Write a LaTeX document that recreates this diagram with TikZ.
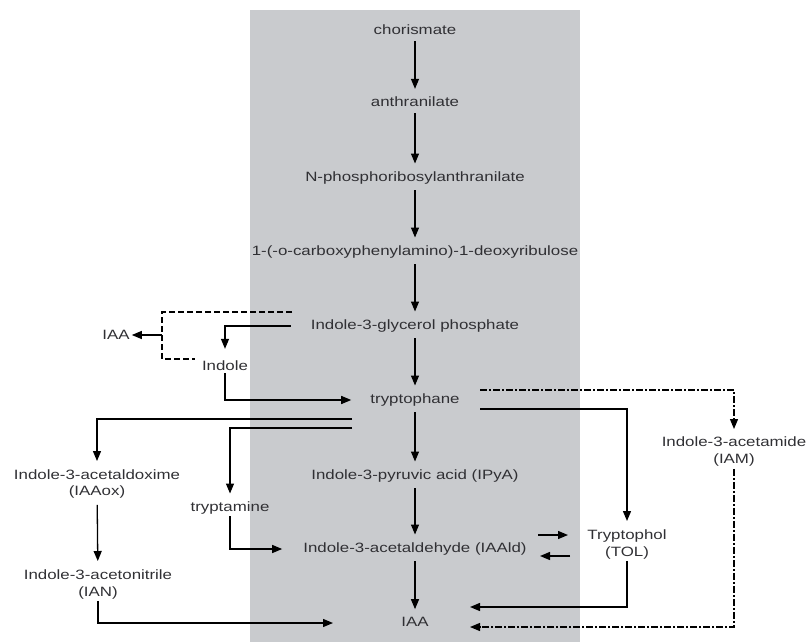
\documentclass[tikz,border=0pt]{standalone}
\usepackage{fontspec}
\setmainfont[FakeStretch=1.25]{Liberation Sans}
\usetikzlibrary{arrows.meta}
\definecolor{boxgray}{RGB}{201,203,206}
\definecolor{txtgray}{RGB}{48,48,52}
\begin{document}
\begin{tikzpicture}[
    x = 1pt, y = -1pt,
    met/.style = {text = txtgray, font = \fontsize{13.5}{17}\selectfont, align = center, inner sep = 2pt},
    arr/.style = {draw, line width = 1.3pt, -{Triangle[length=10pt,width=8pt]}},
    dsh/.style = {draw, line width = 1.2pt, dash pattern = on 6pt off 3pt},
    dshdot/.style = {draw, line width = 1.2pt, dash pattern = on 7pt off 2pt on 2pt off 2pt, -{Triangle[length=10pt,width=8pt]}},
  ]
  \useasboundingbox (0,0) rectangle (808,642);
  \fill[boxgray] (250,10) rectangle (580,642);

  % main chain
  \node[met] (cho) at (415,30) {chorismate};
  \node[met] (ant) at (415,102) {anthranilate};
  \node[met] (npr) at (415,178) {N-phosphoribosylanthranilate};
  \node[met] (cdr) at (415,252) {1-(-o-carboxyphenylamino)-1-deoxyribulose};
  \node[met] (igp) at (415,326) {Indole-3-glycerol phosphate};
  \node[met] (trp) at (415,400) {tryptophane};
  \node[met] (ipya) at (415,476) {Indole-3-pyruvic acid (IPyA)};
  \node[met] (iaald) at (415,549) {Indole-3-acetaldehyde (IAAld)};
  \node[met] (iaa) at (415,622) {IAA};

  % side branches
  \node[met] (iaaL) at (116,335) {IAA};
  \node[met] (ind) at (225,366) {Indole};
  \node[met] (iaaox) at (97,484) {Indole-3-acetaldoxime\\(IAAox)};
  \node[met] (ian) at (98,584) {Indole-3-acetonitrile\\(IAN)};
  \node[met] (trm) at (230,508) {tryptamine};
  \node[met] (tol) at (627,544) {Tryptophol\\(TOL)};
  \node[met] (iam) at (734,452) {Indole-3-acetamide\\(IAM)};

  \coordinate (trpL1) at (352,419);
  \coordinate (trpL2) at (352,428);
  \coordinate (trpR1) at (480,409);
  \coordinate (trpR2) at (480,390);
  \coordinate (dA) at (292,312);
  \coordinate (dB) at (162,359);
  \coordinate (dC) at (195,359);
  \coordinate (dV) at (162,335);
  \coordinate (fwdA) at (538,535);
  \coordinate (fwdB) at (568,535);
  \coordinate (bckA) at (570,556);
  \coordinate (bckB) at (540,556);
  \coordinate (toIaa1) at (470,607);
  \coordinate (toIaa2) at (470,627);
  \coordinate (toIaa3) at (333,623);

  \foreach \a/\b in {cho/ant, npr/cdr, ant/npr, cdr/igp, igp/trp, trp/ipya, ipya/iaald, iaald/iaa}
    \draw[arr, shorten <=4pt, shorten >=6pt] (\a) -- (\b);

  \draw[arr, shorten >=10pt] ([xshift=-18pt]igp.west) -| (ind.north);
  \draw[dsh] (dA) -| (dB) -- (dC);
  \draw[arr] (dV) -- (iaaL.east);
  \draw[arr, shorten >=17pt] (ind.south) |- (trp.west);

  \draw[arr, shorten >=6pt] (trpL1) -| (iaaox.north);
  \draw[arr, shorten >=6pt] (trpL2) -| (trm.north);
  \draw[arr, shorten >=6pt] (trpR1) -| (tol.north);
  \draw[dshdot, shorten >=6pt] (trpR2) -| (iam.north);

  \draw[arr, shorten <=4pt, shorten >=6pt] (iaaox) -- (ian);
  \draw[arr, shorten >=19pt] (trm.south) |- (iaald.west);
  \draw[arr] (ian.south) |- (toIaa3);

  \draw[arr] (fwdA) -- (fwdB);
  \draw[arr] (bckA) -- (bckB);

  \draw[arr] (tol.south) |- (toIaa1);
  \draw[dshdot] (iam.south) |- (toIaa2);
\end{tikzpicture}
\end{document}
